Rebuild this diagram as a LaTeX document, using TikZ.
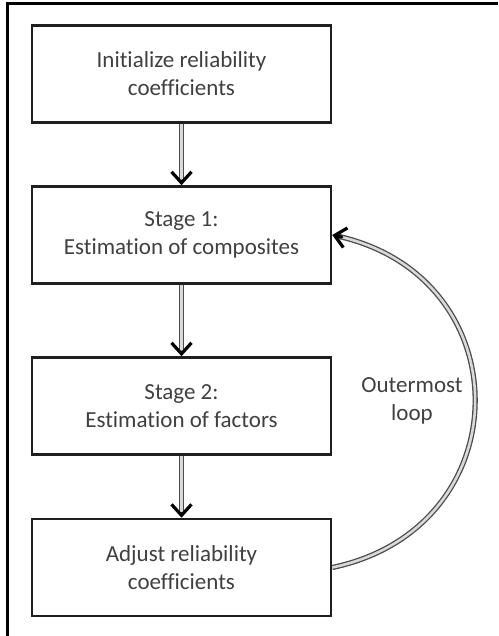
\documentclass[tikz,border=0pt]{standalone}
\usepackage{fontspec}
\setmainfont[Ligatures={NoCommon}]{Carlito}
\usetikzlibrary{arrows.meta,calc}
\definecolor{boxline}{gray}{0.12}
\definecolor{txt}{gray}{0.25}
\definecolor{lineg}{gray}{0.3}
\definecolor{lineinner}{gray}{0.85}
\begin{document}
\begin{tikzpicture}[x=1pt,y=-1pt,
  stepbox/.style={draw=boxline, line width=2.6pt, minimum width=299pt, minimum height=97pt,
    inner sep=0pt, align=center, font=\fontsize{23}{28}\selectfont, text=txt},
  dbl/.style={draw=lineg, line width=1.3pt, double=lineinner, double distance=2.6pt},
  tipline/.style={draw=black, line width=3.2pt, line cap=round, line join=round,
    -{Straight Barb[length=11pt,width=20pt]}},
  lbl/.style={align=center, font=\fontsize{23}{28}\selectfont, text=txt, inner sep=0pt}]
\useasboundingbox[fill=white] (0,0) rectangle (498,636);
\draw[line width=2.6pt, draw=black] (7.5,636) -- (7.5,3.5) -- (498,3.5);

\node[stepbox] (b1) at (181.5,74) {Initialize reliability\\coefficients};
\node[stepbox] (b2) at (181.5,235) {Stage 1:\\Estimation of composites};
\node[stepbox] (b3) at (181.5,406) {Stage 2:\\Estimation of factors};
\node[stepbox] (b4) at (181.5,567.5) {Adjust reliability\\coefficients};

\foreach \a/\b in {b1/b2,b2/b3,b3/b4}{
  \draw[dbl, shorten >=3pt] (\a.south) -- (\b.north);
  \draw[tipline] ($(\b.north)+(0,-4)$) -- (\b.north);
}

\draw[dbl, shorten >=3pt] (b4.east) .. controls +(190,-40) and +(190,40) .. (b2.east);
\draw[tipline] ($(b2.east)+(9.5,2)$) -- (b2.east);

\node[lbl] (loop) at (412,401) {Outermost\\loop};
\end{tikzpicture}
\end{document}
